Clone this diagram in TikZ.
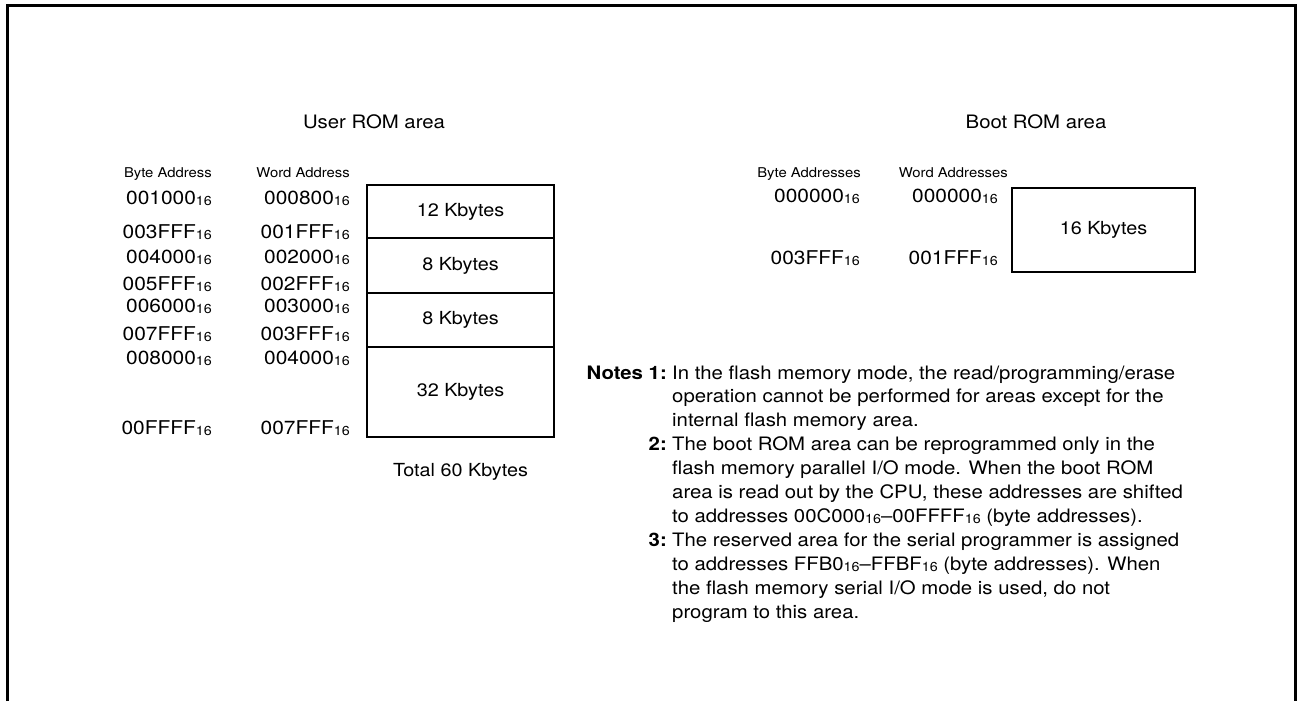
\documentclass[tikz,border=0pt]{standalone}
\usepackage{fontspec}
\setmainfont{TeX Gyre Heros}[FakeStretch=1.1]
\usepackage{tikz}
\usetikzlibrary{
    positioning
}
\tikzset{
  romblk/.style  = {draw, line width=2.2pt, minimum width=187pt, inner sep=0pt,
                    outer sep=0pt, font=\fontsize{18}{20}\selectfont},
  hdr/.style     = {anchor=base east, inner sep=0pt, font=\fontsize{13.5}{15}\selectfont},
  addr/.style    = {anchor=base east, inner sep=0pt, font=\fontsize{19}{20}\selectfont},
  ttl/.style     = {inner sep=0pt, font=\fontsize{18.5}{20}\selectfont},
  notelab/.style = {anchor=base east, inner sep=0pt,
                    font=\fontsize{18.5}{23.9}\selectfont\bfseries},
  notetxt/.style = {anchor=base west, inner sep=0pt,
                    font=\fontsize{18.5}{23.9}\selectfont}
}
\newcommand\hexa[1]{#1\raisebox{-1pt}{\fontsize{13}{13}\selectfont 16}}

\begin{document}
\begin{tikzpicture}[x=1pt, y=-1pt]
  \useasboundingbox (0,0) rectangle (1297,701);
  \draw[line width=2.8pt] (7.5,701) -- (7.5,5.5) -- (1295.5,5.5) -- (1295.5,701);

  % user ROM area
  \node[ttl] (usrttl) at (374,122) {User ROM area};
  \node[hdr] (ubyte) at (212,177) {Byte Address};
  \node[hdr] (uword) at (350,177) {Word Address};

  \node[romblk, anchor=north west, minimum height=53pt] (u12) at (367,185) {12 Kbytes};
  \node[romblk, minimum height=55pt, below=0pt of u12] (u8a) {8 Kbytes};
  \node[romblk, minimum height=54pt, below=0pt of u8a] (u8b) {8 Kbytes};
  \node[romblk, minimum height=90pt, below=0pt of u8b] (u32) {32 Kbytes};
  \node[ttl, font=\fontsize{18}{20}\selectfont, below=26pt of u32] (total) {Total 60 Kbytes};

  \node[addr] (ub0) at (212,204) {\hexa{001000}};
  \node[addr] (uw0) at (350,204) {\hexa{000800}};
  \node[addr] (ub1) at (212,238) {\hexa{003FFF}};
  \node[addr] (uw1) at (350,238) {\hexa{001FFF}};
  \node[addr] (ub2) at (212,263) {\hexa{004000}};
  \node[addr] (uw2) at (350,263) {\hexa{002000}};
  \node[addr] (ub3) at (212,290) {\hexa{005FFF}};
  \node[addr] (uw3) at (350,290) {\hexa{002FFF}};
  \node[addr] (ub4) at (212,312) {\hexa{006000}};
  \node[addr] (uw4) at (350,312) {\hexa{003000}};
  \node[addr] (ub5) at (212,340) {\hexa{007FFF}};
  \node[addr] (uw5) at (350,340) {\hexa{003FFF}};
  \node[addr] (ub6) at (212,364) {\hexa{008000}};
  \node[addr] (uw6) at (350,364) {\hexa{004000}};
  \node[addr] (ub7) at (212,434) {\hexa{00FFFF}};
  \node[addr] (uw7) at (350,434) {\hexa{007FFF}};

  % boot ROM area
  \node[ttl] (bootttl) at (1036,122) {Boot ROM area};
  \node[hdr] (bbyte) at (861,177) {Byte Addresses};
  \node[hdr] (bword) at (1008,177) {Word Addresses};

  \node[romblk, anchor=north west, minimum width=183pt, minimum height=84pt] (b16) at (1012,188) {16 Kbytes};

  \node[addr] (bb0) at (860,202) {\hexa{000000}};
  \node[addr] (bw0) at (998,202) {\hexa{000000}};
  \node[addr] (bb1) at (860,264) {\hexa{003FFF}};
  \node[addr] (bw1) at (998,264) {\hexa{001FFF}};

  % notes
  \node[notelab] (n1lab) at (667,379) {Notes 1:};
  \node[notetxt] (n1) at (672,379) {\begin{tabular}[t]{@{}l@{}}
    In the flash memory mode, the read/programming/erase\\
    operation cannot be performed for areas except for the\\
    internal flash memory area.\end{tabular}};
  \node[notelab] (n2lab) at (667,450.7) {2:};
  \node[notetxt] (n2) at (672,450.7) {\begin{tabular}[t]{@{}l@{}}
    The boot ROM area can be reprogrammed only in the\\
    flash memory parallel I/O mode. When the boot ROM\\
    area is read out by the CPU, these addresses are shifted\\
    to addresses \hexa{00C000}--\hexa{00FFFF} (byte addresses).\end{tabular}};
  \node[notelab] (n3lab) at (667,546.3) {3:};
  \node[notetxt] (n3) at (672,546.3) {\begin{tabular}[t]{@{}l@{}}
    The reserved area for the serial programmer is assigned\\
    to addresses \hexa{FFB0}--\hexa{FFBF} (byte addresses). When\\
    the flash memory serial I/O mode is used, do not\\
    program to this area.\end{tabular}};
\end{tikzpicture}
\end{document}
